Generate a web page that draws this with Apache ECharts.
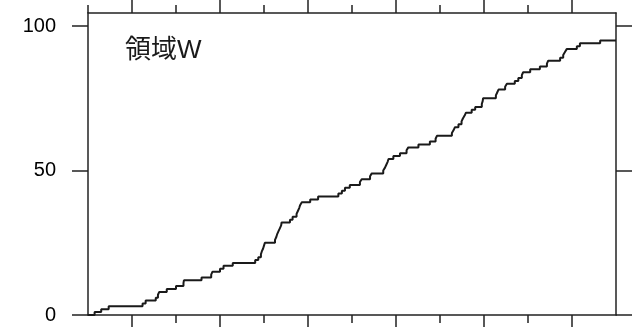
<!DOCTYPE html>
<html>
<head>
<meta charset="utf-8">
<script src="https://cdn.jsdelivr.net/npm/echarts@6/dist/echarts.min.js"></script>
<style>
html,body{margin:0;padding:0;background:#fff;}
#c{width:632px;height:327px;}
</style>
</head>
<body>
<div id="c"></div>
<script>
// Step positions (x, in axis units 0..12) where the cumulative count increases
const stepX = [
  0.15, 0.30, 0.47, 1.24, 1.31, 1.54, 1.59, 1.62, 1.79, 2.00,
  2.17, 2.18, 2.58, 2.80, 2.83, 3.00, 3.08, 3.29, 3.80, 3.87,
  3.93, 3.95, 3.98, 4.00, 4.02, 4.25, 4.28, 4.30, 4.33, 4.36,
  4.39, 4.40, 4.59, 4.65, 4.74, 4.77, 4.80, 4.82, 4.86, 5.05,
  5.23, 5.69, 5.77, 5.84, 5.95, 6.18, 6.22, 6.41, 6.45, 6.71,
  6.75, 6.78, 6.81, 6.83, 6.94, 7.09, 7.24, 7.28, 7.51, 7.77,
  7.90, 7.93, 8.27, 8.31, 8.34, 8.42, 8.49, 8.52, 8.56, 8.59,
  8.72, 8.80, 8.95, 8.97, 8.98, 9.27, 9.30, 9.33, 9.48, 9.52,
  9.70, 9.78, 9.86, 9.89, 10.05, 10.27, 10.43, 10.46, 10.73, 10.80,
  10.84, 10.88, 11.11, 11.18, 11.64
];
// Cumulative count reached at each step position
const stepCount = [
  1, 2, 3, 4, 5, 6, 7, 8, 9, 10,
  11, 12, 13, 14, 15, 16, 17, 18, 19, 20,
  21, 22, 23, 24, 25, 26, 27, 28, 29, 30,
  31, 32, 33, 34, 35, 36, 37, 38, 39, 40,
  41, 42, 43, 44, 45, 46, 47, 48, 49, 50,
  51, 52, 53, 54, 55, 56, 57, 58, 59, 60,
  61, 62, 63, 64, 65, 66, 67, 68, 69, 70,
  71, 72, 73, 74, 75, 76, 77, 78, 79, 80,
  81, 82, 83, 84, 85, 86, 87, 88, 89, 90,
  91, 92, 93, 94, 95
];
const xStart = 0, xEnd = 12;
const yTicks = [0, 50, 100];
const yTickLabels = ['0', '50', '100'];
const xMajorTicks = [1, 3, 5, 7, 9, 11];
const xMinorTicksBottom = [2, 4, 6, 8, 10];
const xMinorTicksTop = [0, 2, 4, 6, 8, 10];
const panelLabel = '領域W';

const data = [[xStart, 0]];
stepX.forEach((x, i) => data.push([x, stepCount[i]]));
data.push([xEnd, stepCount[stepCount.length - 1]]);

const AX = '#222';
const lineStyle = { color: AX, width: 1.5 };
function xAx(pos, ticks, len, showLine) {
  return {
    type: 'value', position: pos, min: xStart, max: xEnd, interval: 1,
    axisLine: { show: showLine, onZero: false, lineStyle },
    axisTick: { show: true, inside: false, length: len, customValues: ticks, lineStyle },
    axisLabel: { show: false },
    splitLine: { show: false }
  };
}
const chart = echarts.init(document.getElementById('c'), null, { renderer: 'canvas' });
chart.setOption({
  animation: false,
  backgroundColor: '#fff',
  grid: { left: 88, right: 16, top: 13, bottom: 12, containLabel: false },
  xAxis: [
    xAx('bottom', xMinorTicksBottom, 8, true),
    xAx('bottom', xMajorTicks, 13, false),
    xAx('top', xMinorTicksTop, 8, true),
    xAx('top', xMajorTicks, 14, false)
  ],
  yAxis: [
    {
      type: 'value', position: 'left', min: 0, max: 104.5,
      axisLine: { show: true, onZero: false, lineStyle },
      axisTick: { show: true, inside: false, length: 16, customValues: yTicks, lineStyle },
      axisLabel: {
        show: true, customValues: yTicks, margin: 32,
        formatter: v => yTickLabels[yTicks.indexOf(v)],
        color: '#000', fontSize: 20, fontFamily: '"Liberation Sans", Arial, sans-serif'
      },
      splitLine: { show: false }
    },
    {
      type: 'value', position: 'right', min: 0, max: 104.5,
      axisLine: { show: true, onZero: false, lineStyle },
      axisTick: { show: true, inside: false, length: 16, customValues: yTicks, lineStyle },
      axisLabel: { show: false },
      splitLine: { show: false }
    }
  ],
  graphic: [{
    type: 'text', left: 125, top: 38,
    style: { text: panelLabel, fill: '#1a1a1a', font: '26px "Liberation Sans", "Noto Sans CJK JP", sans-serif' }
  }],
  series: [{
    type: 'line', xAxisIndex: 0, yAxisIndex: 0, step: 'end',
    data: data, showSymbol: false, symbol: 'none',
    lineStyle: { color: '#1a1a1a', width: 2 },
    clip: false
  }]
});
</script>
</body>
</html>
